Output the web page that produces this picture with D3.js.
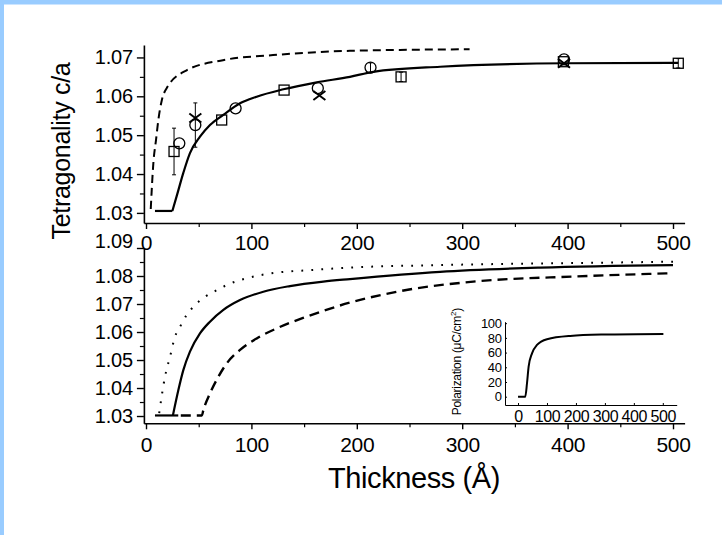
<!DOCTYPE html>
<html><head><meta charset="utf-8">
<script src="https://cdn.jsdelivr.net/npm/d3@7"></script>
<style>
html,body{margin:0;padding:0;background:#fff;overflow:hidden}
svg{display:block}
text{font-family:"Liberation Sans",Arial,Helvetica,sans-serif;fill:#000}
</style></head><body>
<svg id="chart" width="722" height="535"></svg>
<script>
// ---- axis ticks ----
const xTicks = [0, 100, 200, 300, 400, 500];
const xMinor = [50, 150, 250, 350, 450];
const topTicks = [1.03, 1.04, 1.05, 1.06, 1.07];
const topMinor = [1.035, 1.045, 1.055, 1.065];
const botTicks = [1.03, 1.04, 1.05, 1.06, 1.07, 1.08, 1.09];
const botMinor = [1.035, 1.045, 1.055, 1.065, 1.075, 1.085];
const inXTicks = [0, 100, 200, 300, 400, 500];
const inYTicks = [0, 20, 40, 60, 80, 100];

// ---- upper panel: measured c/a and model curves ----
const squares = [[26.6, 1.0458], [71.8, 1.0539], [131, 1.0616], [242, 1.0650], [396, 1.0689], [505, 1.0685]];
const squareErr = [0.006, 0, 0, 0.0012, 0, 0.0012];
const circles = [[31.6, 1.0479], [46.8, 1.0526], [85, 1.0569], [163, 1.0621], [213, 1.0674], [396.6, 1.0695]];
const circleErr = [0, 0.0057, 0, 0, 0.0012, 0];
const crosses = [[46.8, 1.0544], [164.5, 1.0602], [396.6, 1.0685]];

const topDashed = [[4.5, 1.031], [7, 1.0429], [9.5, 1.0488], [11.7, 1.0539], [15, 1.059], [19.6, 1.0621],
  [38.6, 1.0667], [73, 1.0693], [120.5, 1.0706], [193.5, 1.0717], [307, 1.0721]];
const topSolidFlat = [[8.5, 1.0305], [25, 1.0305]];
const topSolid = [[25, 1.0305], [29.1, 1.0343], [35.4, 1.0403], [41.7, 1.0454], [51.2, 1.0496], [60.7, 1.0526],
  [73.3, 1.0552], [89.2, 1.0582], [105, 1.0599], [130.3, 1.0618], [162, 1.0636], [193.5, 1.065],
  [215.7, 1.0663], [279, 1.0676], [399, 1.0685], [505, 1.0686]];

// ---- lower panel: model curves ----
const botDotted = [[12.5, 1.031], [18, 1.044], [22.8, 1.0512], [27.5, 1.0583], [32.3, 1.0619], [38.6, 1.0661],
  [46.5, 1.0696], [56, 1.0726], [65.5, 1.0746], [76.6, 1.0768], [95.5, 1.0792], [124, 1.0812],
  [155.6, 1.0821], [193.5, 1.083], [279, 1.0839], [400, 1.0846], [500, 1.0851]];
const botSolidFlat = [[8.5, 1.0302], [30.6, 1.0302]];
const botSolid = [[25.5, 1.0302], [30.7, 1.0393], [35.4, 1.0464], [41.7, 1.053], [51.2, 1.0595], [60.7, 1.0637],
  [73.4, 1.0679], [89.2, 1.0714], [111.3, 1.0744], [136.6, 1.0764], [168.2, 1.078], [193.5, 1.0789],
  [279, 1.0815], [374, 1.083], [500, 1.0839]];
const botDashed = [[33, 1.0302], [53, 1.0302], [54.4, 1.0321], [60.7, 1.0381], [68.6, 1.044], [76.6, 1.0488],
  [89.2, 1.0536], [105, 1.0577], [124, 1.0613], [152.5, 1.0655], [193.5, 1.0705], [247, 1.075],
  [310.5, 1.078], [405, 1.0798], [500, 1.081]];

// ---- inset: polarization ----
const polar = [[0, 0], [25, 0], [31, 18.3], [36.6, 40.9], [48.3, 59], [65.5, 70.4], [100, 78.2],
  [180, 82.7], [295, 84.5], [502, 85.4]];

const svg = d3.select('#chart');
svg.append('rect').attr('width', 722).attr('height', 535).attr('fill', '#fff');
svg.append('rect').attr('x', 0).attr('y', 0).attr('width', 722).attr('height', 4.5).attr('fill', '#99ccff');
svg.append('rect').attr('x', 0).attr('y', 0).attr('width', 4).attr('height', 535).attr('fill', '#99ccff');

const x = d3.scaleLinear().domain([-2, 511]).range([143.9, 684.6]);
const yTop = d3.scaleLinear().domain([1.0274, 1.0732]).range([223, 45]);
const yBot = d3.scaleLinear().domain([1.0274, 1.09]).range([423.3, 248]);

function styleAxis(g, fs, ls) {
  g.select('.domain').attr('stroke', '#000').attr('stroke-width', 1.6);
  g.selectAll('.tick line').attr('stroke', '#000').attr('stroke-width', 1.4);
  g.selectAll('.tick text').attr('font-size', fs).attr('letter-spacing', ls)
    .attr('font-family', '"Liberation Sans", Arial, sans-serif').attr('fill', '#000');
}
function minor(g) {
  g.select('.domain').remove();
  g.selectAll('.tick line').attr('stroke', '#000').attr('stroke-width', 1.2);
}

// x axes (both panels)
[[223, 6], [423.3, 7.5]].forEach(([yy, pad]) => {
  const gx = svg.append('g').attr('transform', `translate(0,${yy})`)
    .call(d3.axisBottom(x).tickValues(xTicks).tickSize(6).tickPadding(pad).tickSizeOuter(0).tickFormat(d3.format('d')));
  styleAxis(gx, 21, '-0.3px');
  svg.append('g').attr('transform', `translate(0,${yy})`)
    .call(d3.axisBottom(x).tickValues(xMinor).tickSize(4).tickFormat('')).call(minor);
});

// y axes
const gyT = svg.append('g').attr('transform', `translate(${x(-2)},0)`)
  .call(d3.axisLeft(yTop).tickValues(topTicks).tickSize(7).tickPadding(4).tickSizeOuter(0).tickFormat(d3.format('.2f')));
styleAxis(gyT, 20, '-0.2px');
svg.append('g').attr('transform', `translate(${x(-2)},0)`)
  .call(d3.axisLeft(yTop).tickValues(topMinor).tickSize(4).tickFormat('')).call(minor);

const gyB = svg.append('g').attr('transform', `translate(${x(-2)},0)`)
  .call(d3.axisLeft(yBot).tickValues(botTicks).tickSize(7).tickPadding(4).tickSizeOuter(0).tickFormat(d3.format('.2f')));
styleAxis(gyB, 20, '-0.2px');
gyB.selectAll('.tick').filter(d => d === 1.09).select('text').attr('y', -7);
svg.append('g').attr('transform', `translate(${x(-2)},0)`)
  .call(d3.axisLeft(yBot).tickValues(botMinor).tickSize(4).tickFormat('')).call(minor);

// axis titles
svg.append('text').attr('transform', 'translate(70,151) rotate(-90)')
  .attr('text-anchor', 'middle').attr('font-size', 25).attr('letter-spacing', '-0.3px')
  .text('Tetragonality c/a');
svg.append('text').attr('x', 414).attr('y', 488).attr('text-anchor', 'middle')
  .attr('font-size', 29).attr('letter-spacing', '-0.4px').text('Thickness (Å)');

// curves
function path(data, ys, curve, w, dash) {
  svg.append('path').datum(data)
    .attr('d', d3.line().x(d => x(d[0])).y(d => ys(d[1])).curve(curve))
    .attr('fill', 'none').attr('stroke', '#000').attr('stroke-width', w)
    .attr('stroke-dasharray', dash || null);
}
path(topDashed, yTop, d3.curveMonotoneX, 2, '8,5');
path(topSolidFlat, yTop, d3.curveLinear, 2.2);
path(topSolid, yTop, d3.curveMonotoneX, 2.2);
path(botDotted, yBot, d3.curveMonotoneX, 2, '1.8,8.2');
path(botSolidFlat, yBot, d3.curveLinear, 2.2);
path(botSolid, yBot, d3.curveMonotoneX, 2.2);
path(botDashed, yBot, d3.curveMonotoneX, 2.4, '10,6');

// error bars
function errBars(data, err) {
  data.forEach((d, i) => {
    if (!err[i]) return;
    const cx = x(d[0]), y1 = yTop(d[1] - err[i]), y2 = yTop(d[1] + err[i]);
    const g = svg.append('g').attr('stroke', '#000').attr('stroke-width', 1);
    g.append('line').attr('x1', cx).attr('x2', cx).attr('y1', y1).attr('y2', y2);
    g.append('line').attr('x1', cx - 2).attr('x2', cx + 2).attr('y1', y1).attr('y2', y1);
    g.append('line').attr('x1', cx - 2).attr('x2', cx + 2).attr('y1', y2).attr('y2', y2);
  });
}
errBars(squares, squareErr);
errBars(circles, circleErr);

// data markers
svg.append('g').selectAll('rect').data(squares).join('rect')
  .attr('x', d => x(d[0]) - 5).attr('y', d => yTop(d[1]) - 5)
  .attr('width', 10).attr('height', 10)
  .attr('fill', 'none').attr('stroke', '#000').attr('stroke-width', 1.3);
svg.append('g').selectAll('circle').data(circles).join('circle')
  .attr('cx', d => x(d[0])).attr('cy', d => yTop(d[1])).attr('r', 5.5)
  .attr('fill', 'none').attr('stroke', '#000').attr('stroke-width', 1.3);
svg.append('g').selectAll('path').data(crosses).join('path')
  .attr('d', d => {
    const cx = x(d[0]), cy = yTop(d[1]);
    return `M${cx - 6},${cy - 4.5}L${cx + 6},${cy + 4.5}M${cx - 6},${cy + 4.5}L${cx + 6},${cy - 4.5}`;
  })
  .attr('fill', 'none').attr('stroke', '#000').attr('stroke-width', 2);

// inset
const xIn = d3.scaleLinear().domain([-45, 548]).range([505, 676.7]);
const yIn = d3.scaleLinear().domain([-11.3, 102]).range([405, 321.7]);
function styleInset(g, fs) {
  g.select('.domain').attr('stroke', '#000').attr('stroke-width', 1);
  g.selectAll('.tick line').attr('stroke', '#000').attr('stroke-width', 1);
  g.selectAll('.tick text').attr('font-size', fs).attr('letter-spacing', '-0.4px')
    .attr('font-family', '"Liberation Sans", Arial, sans-serif').attr('fill', '#000');
}
const gix = svg.append('g').attr('transform', `translate(0,${yIn(-11.3)})`)
  .call(d3.axisBottom(xIn).tickValues(inXTicks).tickSizeInner(-2).tickSizeOuter(0).tickPadding(5.5));
styleInset(gix, 16);
const giy = svg.append('g').attr('transform', `translate(${xIn(-45)},0)`)
  .call(d3.axisLeft(yIn).tickValues(inYTicks).tickSizeInner(-2).tickSizeOuter(0).tickPadding(3.5));
styleInset(giy, 13);
svg.append('path').datum(polar)
  .attr('d', d3.line().x(d => xIn(d[0])).y(d => yIn(d[1])).curve(d3.curveMonotoneX))
  .attr('fill', 'none').attr('stroke', '#000').attr('stroke-width', 2);
const it = svg.append('text').attr('transform', 'translate(460.5,361.7) rotate(-90)')
  .attr('text-anchor', 'middle').attr('font-size', 12).attr('letter-spacing', '-0.3px');
it.append('tspan').text('Polarization (μC/cm');
it.append('tspan').attr('font-size', 8).attr('dy', -5).text('2');
it.append('tspan').attr('dy', 5).text(')');
</script></body></html>
